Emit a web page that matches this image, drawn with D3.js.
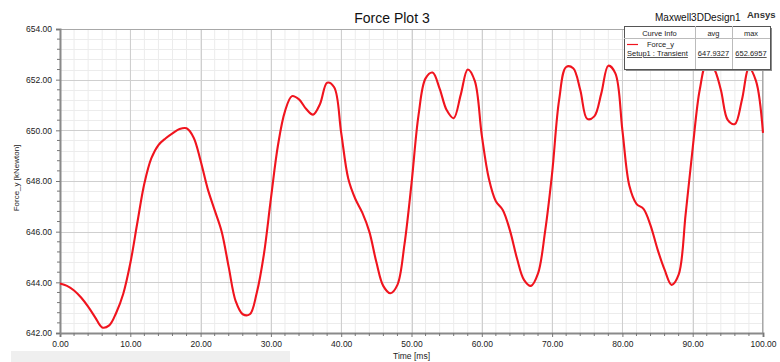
<!DOCTYPE html>
<html>
<head>
<meta charset="utf-8">
<script src="https://cdn.jsdelivr.net/npm/d3@7"></script>
<style>
  body { margin: 0; background: #fff; }
  svg { font-family: "Liberation Sans", Arial, sans-serif; }
</style>
</head>
<body>
<div id="chart"></div>
<script>
// Force_y vs time
const timeMs = [0,1,2,3,4,5,6,7,8,9,10,11,12,13,14,15,16,17,18,19,20,21,22,23,24,25,26,27,28,29,30,31,32,33,34,35,36,37,38,39,40,41,42,43,44,45,46,47,48,49,50,51,52,53,54,55,56,57,58,59,60,61,62,63,64,65,66,67,68,69,70,71,72,73,74,75,76,77,78,79,80,81,82,83,84,85,86,87,88,89,90,91,92,93,94,95,96,97,98,99,100];
const forceY = [643.95,643.86,643.68,643.40,643.04,642.62,642.22,642.30,642.80,643.55,644.75,646.35,647.90,648.90,649.42,649.68,649.88,650.05,650.08,649.72,648.80,647.70,646.85,646.00,644.60,643.25,642.74,642.74,643.60,645.10,647.30,649.40,650.75,651.35,651.22,650.85,650.62,651.05,651.88,651.70,649.90,648.10,647.30,646.75,646.00,644.80,643.85,643.57,643.90,645.50,647.90,650.60,652.05,652.28,651.65,650.80,650.48,651.40,652.40,651.95,649.80,648.10,647.20,646.85,646.05,644.95,644.10,643.86,644.35,646.00,648.30,651.20,652.50,652.45,651.60,650.45,650.55,651.46,652.55,652.25,650.00,647.80,647.10,646.90,646.25,645.30,644.50,643.90,644.30,646.70,649.30,651.60,652.65,652.45,651.60,650.40,650.25,651.20,652.45,651.95,649.90];

const xTicks = [0,10,20,30,40,50,60,70,80,90,100];
const yTicks = [642,644,646,648,650,652,654];

const legendHead = ['Curve Info', 'avg', 'max'];
const legendSeries = 'Force_y';
const legendSetup = 'Setup1 : Transient';
const legendStats = ['647.9327', '652.6957'];

const W = 780, H = 362;
const margin = { top: 29, right: 17, bottom: 29, left: 60 };
const width = W - margin.left - margin.right;
const height = H - margin.top - margin.bottom;

const svg = d3.select('#chart')
  .append('svg')
  .attr('width', W)
  .attr('height', H);

// grey bar at bottom
svg.append('rect')
  .attr('x', 11).attr('y', 351)
  .attr('width', 279).attr('height', 11)
  .attr('fill', '#efefef');

const g = svg.append('g')
  .attr('transform', `translate(${margin.left}, ${margin.top})`);

const xScale = d3.scaleLinear().domain([0, 100]).range([0, width]);
const yScale = d3.scaleLinear().domain([642, 654]).range([height, 0]);

// minor grid
g.append('g')
  .selectAll('line')
  .data(d3.range(0, 100.01, 2))
  .enter().append('line')
  .attr('x1', d => xScale(d)).attr('x2', d => xScale(d))
  .attr('y1', 0).attr('y2', height)
  .attr('stroke', '#ececec');
g.append('g')
  .selectAll('line')
  .data(d3.range(642, 654.01, 0.4))
  .enter().append('line')
  .attr('x1', 0).attr('x2', width)
  .attr('y1', d => Math.round(yScale(d)) + 0.5).attr('y2', d => Math.round(yScale(d)) + 0.5)
  .attr('stroke', '#ececec');

// major grid
g.append('g')
  .selectAll('line')
  .data(xTicks)
  .enter().append('line')
  .attr('x1', d => Math.round(xScale(d)) + 0.5).attr('x2', d => Math.round(xScale(d)) + 0.5)
  .attr('y1', 0).attr('y2', height)
  .attr('stroke', '#cfcfcf');
g.append('g')
  .selectAll('line')
  .data(yTicks)
  .enter().append('line')
  .attr('x1', 0).attr('x2', width)
  .attr('y1', d => Math.round(yScale(d)) + 0.5).attr('y2', d => Math.round(yScale(d)) + 0.5)
  .attr('stroke', '#cfcfcf');

// frame top / right
g.append('line').attr('x1', 0).attr('x2', width).attr('y1', 0.5).attr('y2', 0.5).attr('stroke', '#a8a8a8');
g.append('line').attr('x1', width - 0.5).attr('x2', width - 0.5).attr('y1', 0).attr('y2', height).attr('stroke', '#a8a8a8');

// axes
const xAxis = d3.axisBottom(xScale).tickValues(xTicks).tickFormat(d3.format('.2f')).tickSize(4).tickPadding(4);
const yAxis = d3.axisLeft(yScale).tickValues(yTicks).tickFormat(d3.format('.2f')).tickSize(4).tickPadding(4);

const gx = g.append('g')
  .attr('transform', `translate(0, ${height})`)
  .call(xAxis);
const gy = g.append('g').call(yAxis);

[gx, gy].forEach(a => {
  a.select('.domain').attr('stroke', '#8a8a8a').attr('stroke-width', 2);
  a.selectAll('.tick line').attr('stroke', '#777');
  a.selectAll('.tick text').attr('fill', '#222').style('font-size', '8.5px');
});

// minor ticks
g.append('g')
  .selectAll('line')
  .data(d3.range(0, 100.01, 2).filter(d => d % 10 !== 0))
  .enter().append('line')
  .attr('x1', d => xScale(d)).attr('x2', d => xScale(d))
  .attr('y1', height).attr('y2', height + 3)
  .attr('stroke', '#777');
g.append('g')
  .selectAll('line')
  .data(d3.range(642, 654.01, 0.4).filter(d => Math.abs(d / 2 - Math.round(d / 2)) > 0.01))
  .enter().append('line')
  .attr('x1', -3).attr('x2', 0)
  .attr('y1', d => yScale(d)).attr('y2', d => yScale(d))
  .attr('stroke', '#777');

// curve
const line = d3.line()
  .x((d, i) => xScale(timeMs[i]))
  .y(d => yScale(d))
  .curve(d3.curveCatmullRom.alpha(0.5));

g.append('path')
  .datum(forceY)
  .attr('fill', 'none')
  .attr('stroke', '#f0141e')
  .attr('stroke-width', 2.1)
  .attr('stroke-linejoin', 'round')
  .attr('d', line);

// titles
svg.append('text')
  .attr('x', 392).attr('y', 23)
  .attr('text-anchor', 'middle')
  .style('font-size', '14px')
  .attr('fill', '#111')
  .text('Force Plot 3');

svg.append('text')
  .attr('x', 655).attr('y', 21)
  .style('font-size', '10px')
  .attr('fill', '#111')
  .text('Maxwell3DDesign1');

svg.append('text')
  .attr('x', 747).attr('y', 18)
  .style('font-size', '9.5px')
  .style('font-weight', 'bold')
  .attr('fill', '#333')
  .text('Ansys');

svg.append('text')
  .attr('x', margin.left + width / 2).attr('y', 359)
  .attr('text-anchor', 'middle')
  .style('font-size', '8.5px')
  .attr('fill', '#222')
  .text('Time [ms]');

svg.append('text')
  .attr('transform', 'translate(19, 178) rotate(-90)')
  .attr('text-anchor', 'middle')
  .style('font-size', '8px')
  .attr('fill', '#222')
  .text('Force_y [kNewton]');

// legend table
const lg = svg.append('g').attr('transform', 'translate(624, 26)');
const lw = 146, lh = 43;
const cols = [0, 71, 108, lw];

lg.append('rect')
  .attr('x', 2).attr('y', 2)
  .attr('width', lw).attr('height', lh)
  .attr('fill', '#8c8c8c');
lg.append('rect')
  .attr('x', 0.5).attr('y', 0.5)
  .attr('width', lw).attr('height', lh)
  .attr('fill', '#fff')
  .attr('stroke', '#555');
lg.append('line').attr('x1', 0).attr('x2', lw).attr('y1', 12.5).attr('y2', 12.5).attr('stroke', '#bbb');
[cols[1], cols[2]].forEach(c => {
  lg.append('line').attr('x1', c + 0.5).attr('x2', c + 0.5).attr('y1', 0).attr('y2', lh).attr('stroke', '#bbb');
});

lg.selectAll('.hd')
  .data(legendHead)
  .enter().append('text')
  .attr('x', (d, i) => (cols[i] + cols[i + 1]) / 2)
  .attr('y', 9.5)
  .attr('text-anchor', 'middle')
  .style('font-size', '7.5px')
  .attr('fill', '#222')
  .text(d => d);

lg.append('line')
  .attr('x1', 3).attr('x2', 14)
  .attr('y1', 18.5).attr('y2', 18.5)
  .attr('stroke', '#f0141e').attr('stroke-width', 1.2);
lg.append('text')
  .attr('x', 23).attr('y', 21)
  .style('font-size', '7.5px')
  .attr('fill', '#222')
  .text(legendSeries);
lg.append('text')
  .attr('x', 3).attr('y', 30)
  .style('font-size', '7.5px')
  .style('text-decoration', 'underline')
  .attr('fill', '#222')
  .text(legendSetup);
lg.selectAll('.st')
  .data(legendStats)
  .enter().append('text')
  .attr('x', (d, i) => (cols[i + 1] + cols[i + 2]) / 2)
  .attr('y', 30)
  .attr('text-anchor', 'middle')
  .style('font-size', '7.5px')
  .style('text-decoration', 'underline')
  .attr('fill', '#222')
  .text(d => d);
</script>
</body>
</html>
